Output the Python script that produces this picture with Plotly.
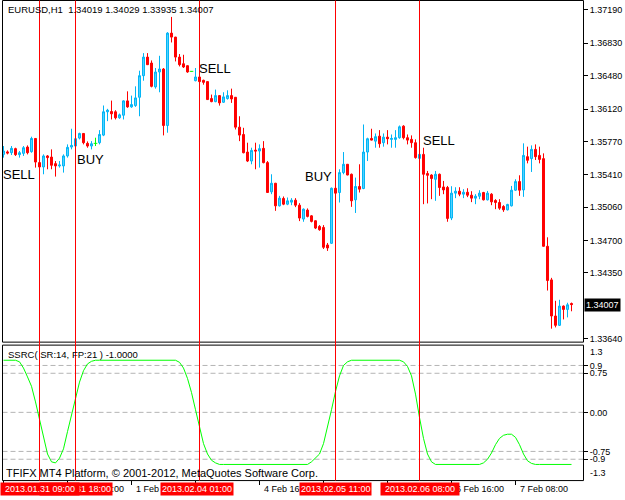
import plotly.graph_objects as go

# ---------------- data ----------------
bar_open = [
    1.35630, 1.35657, 1.35648, 1.35692, 1.35627, 1.35641, 1.35709, 1.35659, 1.35802, 1.35541,
    1.35494, 1.35613, 1.35601, 1.35530, 1.35505, 1.35505, 1.35613, 1.35709, 1.35720, 1.35806,
    1.35856, 1.35749, 1.35720, 1.35749, 1.35756, 1.35838, 1.36090, 1.36093, 1.36090, 1.36025,
    1.36053, 1.36208, 1.36143, 1.36157, 1.36247, 1.36480, 1.36681, 1.36617, 1.36359, 1.36520,
    1.36552, 1.35942, 1.36940, 1.36897, 1.36681, 1.36609, 1.36588, 1.36527, 1.36426, 1.36466,
    1.36430, 1.36416, 1.36233, 1.36200, 1.36265, 1.36193, 1.36233, 1.36265, 1.36247, 1.35924,
    1.35845, 1.35655, 1.35558, 1.35676, 1.35666, 1.35695, 1.35541, 1.35225, 1.35318, 1.35074,
    1.35154, 1.35092, 1.35114, 1.35135, 1.35081, 1.34931, 1.35028, 1.34966, 1.34913, 1.34852,
    1.34841, 1.34651, 1.34669, 1.35264, 1.35218, 1.35433, 1.35523, 1.35415, 1.35139, 1.35283,
    1.35261, 1.35655, 1.35802, 1.35773, 1.35827, 1.35756, 1.35816, 1.35792, 1.35792, 1.35810,
    1.35935, 1.35810, 1.35792, 1.35756, 1.35587, 1.35630, 1.35423, 1.35407, 1.35361, 1.35415,
    1.35278, 1.35272, 1.34942, 1.35211, 1.35232, 1.35200, 1.35221, 1.35189, 1.35157, 1.35178,
    1.35218, 1.35139, 1.35200, 1.35132, 1.35110, 1.35067, 1.35031, 1.35074, 1.35243, 1.35336,
    1.35246, 1.35605, 1.35584, 1.35684, 1.35619, 1.35584, 1.34637, 1.34274, 1.33884, 1.33783,
    1.33991, 1.33955, 1.34019,
]
bar_high = [
    1.35720, 1.35673, 1.35720, 1.35702, 1.35666, 1.35720, 1.35727, 1.35821, 1.35806, 1.35558,
    1.35630, 1.35623, 1.35684, 1.35558, 1.35558, 1.35630, 1.35738, 1.35907, 1.35827, 1.35864,
    1.35860, 1.35770, 1.35773, 1.35810, 1.35892, 1.36158, 1.36122, 1.36211, 1.36107, 1.36071,
    1.36214, 1.36311, 1.36265, 1.36365, 1.36534, 1.36724, 1.36724, 1.36645, 1.36563, 1.36695,
    1.36563, 1.36950, 1.37115, 1.36900, 1.36714, 1.36706, 1.36592, 1.36530, 1.36563, 1.36473,
    1.36437, 1.36420, 1.36276, 1.36330, 1.36268, 1.36301, 1.36322, 1.36340, 1.36250, 1.36042,
    1.35917, 1.35756, 1.35702, 1.35756, 1.35738, 1.35773, 1.35558, 1.35415, 1.35322, 1.35182,
    1.35175, 1.35164, 1.35157, 1.35157, 1.35103, 1.35046, 1.35046, 1.34974, 1.34917, 1.34866,
    1.34866, 1.34673, 1.35272, 1.35272, 1.35469, 1.35655, 1.35526, 1.35423, 1.35379, 1.35523,
    1.35953, 1.35810, 1.35907, 1.35856, 1.35892, 1.35856, 1.35892, 1.35845, 1.35892, 1.35942,
    1.35945, 1.35845, 1.35835, 1.35792, 1.35648, 1.35702, 1.35451, 1.35415, 1.35451, 1.35423,
    1.35343, 1.35289, 1.35286, 1.35275, 1.35275, 1.35254, 1.35264, 1.35232, 1.35200, 1.35243,
    1.35225, 1.35235, 1.35211, 1.35146, 1.35146, 1.35081, 1.35096, 1.35289, 1.35361, 1.35404,
    1.35749, 1.35713, 1.35727, 1.35738, 1.35713, 1.35641, 1.34734, 1.34296, 1.34048, 1.34059,
    1.33998, 1.34027, 1.34029,
]
bar_low = [
    1.35595, 1.35630, 1.35623, 1.35613, 1.35595, 1.35613, 1.35630, 1.35648, 1.35487, 1.35433,
    1.35415, 1.35469, 1.35469, 1.35390, 1.35487, 1.35433, 1.35595, 1.35684, 1.35702, 1.35792,
    1.35738, 1.35702, 1.35684, 1.35720, 1.35738, 1.35827, 1.35989, 1.36007, 1.36007, 1.36014,
    1.36007, 1.36133, 1.36133, 1.36143, 1.36042, 1.36426, 1.36595, 1.36354, 1.36340, 1.36301,
    1.35835, 1.35864, 1.36839, 1.36634, 1.36580, 1.36563, 1.36511, 1.36524, 1.36419, 1.36394,
    1.36383, 1.36218, 1.36193, 1.36193, 1.36157, 1.36186, 1.36222, 1.36186, 1.35899, 1.35773,
    1.35641, 1.35547, 1.35523, 1.35469, 1.35487, 1.35533, 1.35215, 1.35200, 1.35020, 1.35067,
    1.35081, 1.35081, 1.35081, 1.35060, 1.34909, 1.34902, 1.34949, 1.34895, 1.34823, 1.34805,
    1.34608, 1.34587, 1.34662, 1.35200, 1.35110, 1.35415, 1.35404, 1.35063, 1.34997, 1.35218,
    1.35254, 1.35558, 1.35780, 1.35702, 1.35702, 1.35713, 1.35738, 1.35702, 1.35702, 1.35799,
    1.35792, 1.35738, 1.35702, 1.35584, 1.35576, 1.35092, 1.35100, 1.35146, 1.35128, 1.35182,
    1.35200, 1.34902, 1.34920, 1.35157, 1.35178, 1.35157, 1.35168, 1.35114, 1.35092, 1.35146,
    1.35132, 1.35132, 1.35081, 1.35038, 1.35031, 1.35009, 1.35024, 1.35067, 1.35235, 1.35182,
    1.35171, 1.35533, 1.35440, 1.35569, 1.35533, 1.34633, 1.34159, 1.33747, 1.33761, 1.33776,
    1.33847, 1.33869, 1.33935,
]
bar_close = [
    1.35666, 1.35644, 1.35695, 1.35627, 1.35648, 1.35702, 1.35648, 1.35802, 1.35547, 1.35494,
    1.35613, 1.35595, 1.35512, 1.35505, 1.35515, 1.35613, 1.35706, 1.35727, 1.35799, 1.35856,
    1.35756, 1.35720, 1.35745, 1.35749, 1.35845, 1.36090, 1.36107, 1.36068, 1.36025, 1.36057,
    1.36208, 1.36143, 1.36168, 1.36240, 1.36480, 1.36681, 1.36599, 1.36365, 1.36520, 1.36552,
    1.35942, 1.36940, 1.36897, 1.36681, 1.36599, 1.36574, 1.36520, 1.36527, 1.36466, 1.36416,
    1.36408, 1.36222, 1.36200, 1.36265, 1.36186, 1.36251, 1.36265, 1.36229, 1.35924, 1.35838,
    1.35648, 1.35558, 1.35673, 1.35666, 1.35692, 1.35541, 1.35218, 1.35318, 1.35074, 1.35157,
    1.35092, 1.35128, 1.35135, 1.35081, 1.34942, 1.35038, 1.34960, 1.34906, 1.34834, 1.34816,
    1.34626, 1.34619, 1.35264, 1.35211, 1.35433, 1.35523, 1.35407, 1.35128, 1.35283, 1.35254,
    1.35655, 1.35799, 1.35784, 1.35821, 1.35745, 1.35816, 1.35799, 1.35802, 1.35810, 1.35928,
    1.35810, 1.35784, 1.35756, 1.35595, 1.35630, 1.35415, 1.35404, 1.35369, 1.35415, 1.35272,
    1.35246, 1.34938, 1.35211, 1.35232, 1.35200, 1.35221, 1.35189, 1.35157, 1.35178, 1.35211,
    1.35139, 1.35211, 1.35117, 1.35110, 1.35049, 1.35031, 1.35089, 1.35243, 1.35336, 1.35243,
    1.35619, 1.35566, 1.35684, 1.35605, 1.35576, 1.34637, 1.34267, 1.33884, 1.33783, 1.33991,
    1.33955, 1.34005, 1.34007,
]
ssrc = [
    1.0, 1.0, 1.0, 1.0, 0.97, 0.85, 0.68, 0.5, 0.2, -0.15,
    -0.5, -0.8, -0.95, -0.97, -0.88, -0.7, -0.37, -0.05, 0.3, 0.58,
    0.8, 0.93, 0.98, 1.0, 1.0, 1.0, 1.0, 1.0, 1.0, 1.0,
    1.0, 1.0, 1.0, 1.0, 1.0, 1.0, 1.0, 1.0, 1.0, 1.0,
    1.0, 1.0, 1.0, 1.0, 0.96, 0.85, 0.65, 0.38, 0.05, -0.3,
    -0.6, -0.8, -0.92, -0.97, -1.0, -1.0, -1.0, -1.0, -1.0, -1.0,
    -1.0, -1.0, -1.0, -1.0, -1.0, -1.0, -1.0, -1.0, -1.0, -1.0,
    -1.0, -1.0, -1.0, -1.0, -1.0, -1.0, -1.0, -0.95, -0.88, -0.8,
    -0.6, -0.3, 0.05, 0.4, 0.7, 0.9, 0.97, 1.0, 1.0, 1.0,
    1.0, 1.0, 1.0, 1.0, 1.0, 1.0, 1.0, 1.0, 1.0, 1.0,
    0.97, 0.88, 0.7, 0.35, -0.1, -0.5, -0.8, -0.95, -1.0, -1.0,
    -1.0, -1.0, -1.0, -1.0, -1.0, -1.0, -1.0, -1.0, -1.0, -1.0,
    -0.97, -0.9, -0.78, -0.62, -0.5, -0.44, -0.42, -0.42, -0.48, -0.62,
    -0.8, -0.93, -0.98, -1.0, -1.0, -1.0, -1.0, -1.0, -1.0, -1.0,
    -1.0, -1.0, -1.0,
]

price_ticks = [1.37190, 1.36830, 1.36480, 1.36120, 1.35770, 1.35410,
               1.35060, 1.34700, 1.34350, 1.33640]
ssrc_levels = [0.9, 0.75, 0.0, -0.75, -0.9]
ssrc_level_labels = ["0.9", "0.75", "0.00", "-0.75", "-0.9"]

time_tick_bars = [0, 16, 32, 48, 64, 80, 96, 112, 128]
time_label_bars = [16, 32, 64, 112, 128]
time_labels = ["31 Jan 16:00", "1 Feb 08:00", "4 Feb 16:00", "6 Feb 16:00", "7 Feb 08:00"]

vline_bars = [9, 18, 49, 83, 104]
vline_labels = ["2013.01.31 09:00", "2013.01.31 18:00", "2013.02.04 01:00",
                "2013.02.05 11:00", "2013.02.06 08:00"]

signal_texts = ["SELL", "BUY", "SELL", "BUY", "SELL"]
signal_bars = [0, 18.5, 49, 75.5, 105]
signal_prices = [1.35415, 1.35571, 1.36561, 1.35393, 1.35781]

header_text = "EURUSD,H1\u00a0 1.34019 1.34029 1.33935 1.34007"
indicator_text = "SSRC( SR:14, FP:21 ) -1.0000"
copyright_text = "TFIFX MT4 Platform, \u00a9 2001-2012, MetaQuotes Software Corp."
last_price = 1.34007

# ---------------- layout helpers ----------------
W, H = 625, 500
FONT = "Liberation Sans, Arial, sans-serif"


def px(x):
    return x / W


def py(y):
    return 1 - y / H


n = len(bar_open)
idx = list(range(n))
doji = [i for i in idx if bar_open[i] == bar_close[i]]

o = [None if i in doji else bar_open[i] for i in idx]
h = [None if i in doji else bar_high[i] for i in idx]
l = [None if i in doji else bar_low[i] for i in idx]
c = [None if i in doji else bar_close[i] for i in idx]

fig = go.Figure()
fig.add_trace(go.Candlestick(
    x=idx, open=o, high=h, low=l, close=c,
    increasing=dict(line=dict(color="#00B4F5", width=1), fillcolor="#55D4FF"),
    decreasing=dict(line=dict(color="#FF0000", width=1), fillcolor="#FF0000"),
    whiskerwidth=0, showlegend=False, hoverinfo="skip",
    xaxis="x", yaxis="y",
))

dx, dy = [], []
for i in doji:
    dx += [i, i, None, i - 0.45, i + 0.45, None]
    dy += [bar_low[i], bar_high[i], None, bar_open[i], bar_open[i], None]
fig.add_trace(go.Scatter(x=dx, y=dy, mode="lines", line=dict(color="#00FF00", width=1),
                         showlegend=False, hoverinfo="skip", xaxis="x", yaxis="y"))

fig.add_trace(go.Scatter(x=idx, y=ssrc, mode="lines", line=dict(color="#00FF00", width=1),
                         showlegend=False, hoverinfo="skip", xaxis="x", yaxis="y2"))

shapes = []
for lv in ssrc_levels:
    shapes.append(dict(type="line", xref="paper", yref="y2", x0=px(2.5), x1=px(583.5), y0=lv, y1=lv,
                       line=dict(color="#B4B4B4", width=1, dash="5px,3px"), layer="below"))
shapes.append(dict(type="rect", xref="paper", yref="paper", x0=px(2.5), x1=px(583.5),
                   y0=py(343.5), y1=py(0.5), line=dict(color="black", width=1)))
shapes.append(dict(type="rect", xref="paper", yref="paper", x0=px(2.5), x1=px(583.5),
                   y0=py(482.5), y1=py(346.5), line=dict(color="black", width=1)))
for b in vline_bars:
    shapes.append(dict(type="line", xref="x", yref="paper", x0=b, x1=b,
                       y0=py(482.5), y1=py(0.5), line=dict(color="#FF0000", width=1)))

ann = []
ann.append(dict(text=header_text, xref="paper", yref="paper", x=px(6), y=py(10),
                xanchor="left", yanchor="middle", showarrow=False,
                font=dict(family=FONT, size=9.5, color="black")))
ann.append(dict(text=indicator_text, xref="paper", yref="paper", x=px(6), y=py(356),
                xanchor="left", yanchor="middle", showarrow=False,
                font=dict(family=FONT, size=9.5, color="black")))
ann.append(dict(text=copyright_text, xref="paper", yref="paper", x=px(4), y=py(475),
                xanchor="left", yanchor="middle", showarrow=False,
                font=dict(family=FONT, size=11, color="black")))
for t, b, p in zip(signal_texts, signal_bars, signal_prices):
    ann.append(dict(text=t, xref="x", yref="y", x=b, y=p, xanchor="left", yanchor="middle",
                    showarrow=False, xshift=-3, font=dict(family=FONT, size=13, color="black")))
ann.append(dict(text="1.3", xref="paper", yref="paper", x=px(588), y=py(353), xanchor="left",
                yanchor="middle", showarrow=False, font=dict(family=FONT, size=9, color="black")))
ann.append(dict(text="-1.3", xref="paper", yref="paper", x=px(588), y=py(475), xanchor="left",
                yanchor="middle", showarrow=False, font=dict(family=FONT, size=9, color="black")))
ann.append(dict(text=f"{last_price:.5f}", xref="paper", yref="y", x=px(584),
                y=last_price, xanchor="left", yanchor="middle", showarrow=False,
                bgcolor="black", borderpad=1, font=dict(family=FONT, size=9, color="white")))
for b, t in zip(time_label_bars, time_labels):
    ann.append(dict(text=t, xref="x", yref="paper", x=b, y=py(491), xanchor="left",
                    yanchor="middle", showarrow=False, xshift=2,
                    font=dict(family=FONT, size=9, color="black")))
box_font = dict(family=FONT, size=9, color="white")
ann.append(dict(text=vline_labels[1], xref="x", yref="paper", x=vline_bars[1], y=py(491),
                xanchor="center", yanchor="middle", showarrow=False, bgcolor="#FF0000",
                borderpad=1, font=box_font))
ann.append(dict(text=vline_labels[0], xref="paper", yref="paper", x=0, y=py(491),
                xanchor="left", yanchor="middle", showarrow=False, bgcolor="#FF0000",
                borderpad=1, width=76, align="center", font=box_font))
box_widths = {2: None, 3: None, 4: 76}
for k in (2, 3, 4):
    a = dict(text=vline_labels[k], xref="x", yref="paper", x=vline_bars[k], y=py(491),
             xanchor="center", yanchor="middle", showarrow=False, bgcolor="#FF0000",
             borderpad=1, xshift=-3 if k == 2 else 0, font=box_font)
    if box_widths[k]:
        a["width"] = box_widths[k]
    ann.append(a)

fig.update_layout(
    width=W, height=H, margin=dict(l=0, r=0, t=0, b=0), autosize=False,
    paper_bgcolor="white", plot_bgcolor="white", showlegend=False,
    font=dict(family=FONT, size=9, color="black"),
    xaxis=dict(domain=[px(2), px(583)], range=[-0.375, 144.875], anchor="y2",
               tickvals=time_tick_bars, ticks="outside", ticklen=4, tickcolor="black",
               showticklabels=False, showgrid=False, zeroline=False, showline=False,
               rangeslider=dict(visible=False), fixedrange=True),
    yaxis=dict(domain=[py(343), py(1)], range=[1.33607, 1.37287], side="right", anchor="x",
               tickvals=price_ticks, ticktext=[f"{v:.5f}" for v in price_ticks],
               ticks="outside", ticklen=4, tickcolor="black", showgrid=False, zeroline=False,
               showline=False, tickfont=dict(family=FONT, size=9, color="black")),
    yaxis2=dict(domain=[py(482), py(346)], range=[-1.3, 1.3], side="right", anchor="x",
                tickvals=ssrc_levels, ticktext=ssrc_level_labels, ticks="outside", ticklen=4,
                tickcolor="black", showgrid=False, zeroline=False, showline=False,
                tickfont=dict(family=FONT, size=9, color="black")),
    shapes=shapes, annotations=ann,
)

fig.write_html("out.html", config={"displayModeBar": False, "staticPlot": True},
               post_script="document.body.style.margin='0px';document.body.style.overflow='hidden';")
